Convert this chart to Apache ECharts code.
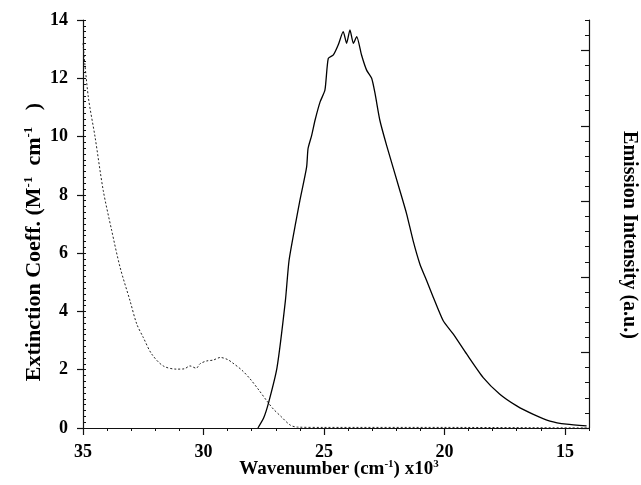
<!DOCTYPE html>
<html>
<head>
<meta charset="utf-8">
<script src="https://cdn.jsdelivr.net/npm/echarts@6/dist/echarts.min.js"></script>
<style>html,body{margin:0;padding:0;background:#fff;}#c{width:641px;height:485px;}</style>
</head>
<body>
<div id="c"></div>
<script>
// Absorption (extinction coefficient) — wavenumber x10^3 cm^-1
const absWn  = [35.0, 34.78, 34.5, 34.16, 33.81, 33.46, 33.05, 32.77, 32.5, 32.15, 31.67, 31.11, 30.8, 30.56, 30.3, 30.15, 29.87, 29.6, 29.3, 29.0, 28.8, 28.4, 28.07, 27.7, 27.37, 27.1, 26.8, 26.4, 26.1, 25.0, 20.0, 14.0];
const absVal = [13.2, 11.36, 9.99, 8.15, 6.78, 5.51, 4.37, 3.57, 3.11, 2.54, 2.13, 2.02, 2.03, 2.13, 2.05, 2.2, 2.30, 2.33, 2.42, 2.35, 2.24, 1.98, 1.69, 1.30, 0.93, 0.65, 0.41, 0.1, 0.03, 0.02, 0.02, 0.0];
// Emission (a.u., drawn in left-axis units)
const emWn  = [27.74, 27.5, 27.3, 26.95, 26.6, 26.45, 26.16, 26.0, 25.72, 25.66, 25.51, 25.37, 25.16, 24.96, 24.82, 24.61, 24.41, 24.2, 24.06, 23.92, 23.78, 23.64, 23.44, 23.23, 23.02, 22.88, 22.68, 22.4, 21.85, 21.57, 21.3, 21.02, 20.74, 20.46, 20.05, 19.63, 19.08, 18.39, 17.7, 17.0, 16.31, 15.62, 14.93, 14.1];
const emVal = [0, 0.35, 0.86, 2.06, 4.37, 5.74, 7.1, 7.8, 8.95, 9.59, 10.04, 10.56, 11.19, 11.59, 12.68, 12.80, 13.14, 13.6, 13.2, 13.66, 13.2, 13.43, 12.8, 12.28, 12.0, 11.48, 10.56, 9.7, 8.15, 7.35, 6.43, 5.63, 5.06, 4.48, 3.68, 3.22, 2.54, 1.73, 1.16, 0.76, 0.47, 0.24, 0.13, 0.07];
// Tick labels
const xTickValues = [15, 20, 25, 30, 35];
const yTickValues = [0, 2, 4, 6, 8, 10, 12, 14];
const rightMajorTicks = [0, 5, 10, 15, 20, 25];

const FONT = 'Liberation Serif';
const lineCol = '#111';

const chart = echarts.init(document.getElementById('c'), null, {renderer: 'canvas'});
const pairs = (xs, ys) => xs.map((x, i) => [x, ys[i]]);

const baseX = {
  type: 'value', min: 14, max: 35, inverse: true, position: 'bottom',
  splitLine: {show: false},
  axisLine: {show: true, lineStyle: {color: lineCol, width: 1.2}}
};
const baseY = {
  type: 'value', min: 0, max: 14,
  splitLine: {show: false}
};

chart.setOption({
  animation: false,
  backgroundColor: '#fff',
  grid: {left: 83, right: 52, top: 20, bottom: 57, containLabel: false},
  xAxis: [
    Object.assign({}, baseX, {
      axisTick: {show: true, customValues: xTickValues, length: 7, lineStyle: {color: lineCol, width: 1.2}},
      axisLabel: {show: true, customValues: xTickValues, margin: 15, fontFamily: FONT, fontWeight: 'bold', fontSize: 18, color: '#000'}
    }),
    Object.assign({}, baseX, {
      interval: 1,
      axisLine: {show: false},
      axisTick: {show: true, length: 3, lineStyle: {color: lineCol, width: 1}},
      axisLabel: {show: false}
    })
  ],
  yAxis: [
    Object.assign({}, baseY, {
      position: 'left', interval: 2,
      axisLine: {show: true, lineStyle: {color: lineCol, width: 1.2}},
      axisTick: {show: true, length: 6, lineStyle: {color: lineCol, width: 1.2}},
      axisLabel: {show: true, margin: 15, fontFamily: FONT, fontWeight: 'bold', fontSize: 18, color: '#000'}
    }),
    Object.assign({}, baseY, {
      position: 'left', interval: 0.2,
      axisLine: {show: false},
      axisTick: {show: true, inside: true, length: 3, lineStyle: {color: lineCol, width: 1}},
      axisLabel: {show: false}
    }),
    {
      type: 'value', min: 0, max: 27, interval: 1, position: 'right',
      splitLine: {show: false},
      axisLine: {show: true, lineStyle: {color: lineCol, width: 1.2}},
      axisTick: {show: true, inside: true, length: 4, lineStyle: {color: lineCol, width: 1}},
      axisLabel: {show: false}
    },
    {
      type: 'value', min: 0, max: 27, position: 'right',
      splitLine: {show: false},
      axisLine: {show: false},
      axisTick: {show: true, inside: true, length: 8, customValues: rightMajorTicks, lineStyle: {color: lineCol, width: 1.2}},
      axisLabel: {show: false, customValues: rightMajorTicks}
    }
  ],
  graphic: [
    {
      type: 'text', x: 339, y: 469,
      style: {
        text: '{b|Wavenumber (cm}{s|-1}{b|) x10}{s|3}',
        align: 'center', verticalAlign: 'middle', fill: '#000',
        rich: {
          b: {fontFamily: FONT, fontWeight: 'bold', fontSize: 19, fill: '#000', lineHeight: 20},
          s: {fontFamily: FONT, fontWeight: 'bold', fontSize: 11, fill: '#000', verticalAlign: 'top', lineHeight: 20}
        }
      }
    },
    {
      type: 'text', x: 34, y: 242, rotation: Math.PI / 2,
      style: {
        text: '{b|Extinction Coeff. (M}{s|-1}{b|  cm}{s|-1}{b|   )}',
        align: 'center', verticalAlign: 'middle', fill: '#000',
        rich: {
          b: {fontFamily: FONT, fontWeight: 'bold', fontSize: 22, fill: '#000', lineHeight: 24},
          s: {fontFamily: FONT, fontWeight: 'bold', fontSize: 13, fill: '#000', verticalAlign: 'top', lineHeight: 24}
        }
      }
    },
    {
      type: 'text', x: 629, y: 235, rotation: -Math.PI / 2,
      style: {
        text: 'Emission Intensity (a.u.)',
        align: 'center', verticalAlign: 'middle', fill: '#000',
        font: 'bold 20px "Liberation Serif"'
      }
    }
  ],
  series: [
    {
      name: 'Absorption', type: 'line', xAxisIndex: 0, yAxisIndex: 0,
      data: pairs(absWn, absVal), showSymbol: false, smooth: 0.3,
      lineStyle: {color: '#222', width: 1, type: [2, 2]}
    },
    {
      name: 'Emission', type: 'line', xAxisIndex: 0, yAxisIndex: 0,
      data: pairs(emWn, emVal), showSymbol: false, smooth: 0.2,
      lineStyle: {color: '#000', width: 1.3}
    }
  ]
});
</script>
</body>
</html>
